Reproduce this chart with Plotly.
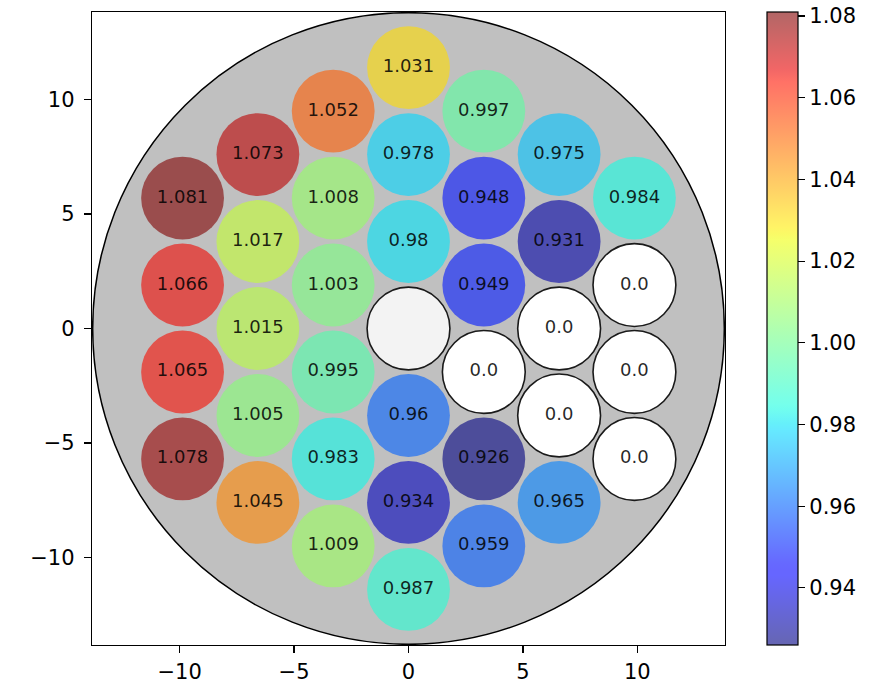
import numpy as np
import plotly.graph_objects as go

# ---- data (columns of the hexagonal lattice, left to right, values top to bottom) ----
col_index = [-3, -2, -1, 0, 1, 2, 3]
col_values = [
    [1.081, 1.066, 1.065, 1.078],
    [1.073, 1.017, 1.015, 1.005, 1.045],
    [1.052, 1.008, 1.003, 0.995, 0.983, 1.009],
    [1.031, 0.978, 0.98, None, 0.96, 0.934, 0.987],
    [0.997, 0.948, 0.949, 0.0, 0.926, 0.959],
    [0.975, 0.931, 0.0, 0.0, 0.965],
    [0.984, 0.0, 0.0, 0.0],
]
cbar_ticks = [0.94, 0.96, 0.98, 1.00, 1.02, 1.04, 1.06, 1.08]
axis_ticks = [-10, -5, 0, 5, 10]

# ---- geometry / style ----
PITCH = 3.8
PIN_R = 1.81
OUTER_R = 13.8
LIM = 13.83
ALPHA = 0.6
VMIN, VMAX = 0.926, 1.081
FONT = "DejaVu Sans"

# matplotlib jet segment data
_jet = {
    "r": [(0, 0), (0.35, 0), (0.66, 1), (0.89, 1), (1, 0.5)],
    "g": [(0, 0), (0.125, 0), (0.375, 1), (0.64, 1), (0.91, 0), (1, 0)],
    "b": [(0, 0.5), (0.11, 1), (0.34, 1), (0.65, 0), (1, 0)],
}


def jet(t):
    t = float(np.clip(t, 0, 1))
    out = []
    for ch in "rgb":
        xs_, ys_ = zip(*_jet[ch])
        out.append(int(round(255 * np.interp(t, xs_, ys_))))
    return out


def rgba(c, a):
    return f"rgba({c[0]},{c[1]},{c[2]},{a})"


xs, ys, vals = [], [], []
dx = PITCH * np.sqrt(3) / 2
for c, col in zip(col_index, col_values):
    n = len(col)
    for k, v in enumerate(col):
        xs.append(c * dx)
        ys.append(((n - 1) / 2 - k) * PITCH)
        vals.append(v)

shapes = [
    dict(type="circle", xref="x", yref="y",
         x0=-OUTER_R, x1=OUTER_R, y0=-OUTER_R, y1=OUTER_R,
         fillcolor="#c0c0c0", line=dict(color="black", width=1.5), layer="below")
]
tx, ty, tt = [], [], []
for x, y, v in zip(xs, ys, vals):
    if v is None:
        fill = "rgba(255,255,255,0.8)"
        line = dict(color="#1a1a1a", width=1.6)
    elif v == 0:
        fill = "white"
        line = dict(color="#1a1a1a", width=1.6)
    else:
        fill = rgba(jet((v - VMIN) / (VMAX - VMIN)), ALPHA)
        line = dict(width=0)
    shapes.append(dict(type="circle", xref="x", yref="y",
                       x0=x - PIN_R, x1=x + PIN_R, y0=y - PIN_R, y1=y + PIN_R,
                       fillcolor=fill, line=line, layer="below"))
    if v is not None:
        tx.append(x)
        ty.append(y)
        tt.append(str(v))

fig = go.Figure()
fig.add_trace(go.Scatter(
    x=tx, y=ty, text=tt, mode="text",
    textfont=dict(family=FONT, size=18, color="rgba(0,0,0,0.85)"),
    hoverinfo="skip", showlegend=False))

cs_pts = np.linspace(0, 1, 101)
colorscale = [[float(p), rgba(jet(p), ALPHA)] for p in cs_pts]
colored = [v for v in vals if v]
fig.add_trace(go.Scatter(
    x=[xs[0]] * len(colored), y=[ys[0]] * len(colored), mode="markers",
    marker=dict(color=colored, colorscale=colorscale, cmin=VMIN, cmax=VMAX,
                size=1, opacity=0, showscale=True,
                colorbar=dict(x=1.0664, xanchor="left", xpad=0, ypad=0,
                              y=0.5, yanchor="middle", len=1, thickness=31,
                              outlinecolor="black", outlinewidth=1.2,
                              ticks="outside", ticklen=7, tickwidth=1.2,
                              tickcolor="black", ticklabeloverflow="allow",
                              tickvals=cbar_ticks,
                              ticktext=[f"{t:.2f}" for t in cbar_ticks],
                              tickfont=dict(family=FONT, size=21, color="black"))),
    hoverinfo="skip", showlegend=False))

axis_common = dict(range=[-LIM, LIM], showgrid=False, zeroline=False,
                   showline=True, linecolor="black", linewidth=1.2, mirror=True,
                   ticks="outside", ticklen=7, tickwidth=1.2, tickcolor="black",
                   tickvals=axis_ticks, automargin=False,
                   ticktext=[str(t).replace("-", "\u2212") for t in axis_ticks],
                   tickfont=dict(family=FONT, size=21, color="black"))
fig.update_layout(
    width=874, height=683,
    margin=dict(l=92, r=149, t=12, b=38, autoexpand=False),
    paper_bgcolor="white", plot_bgcolor="white",
    shapes=shapes,
    xaxis=dict(axis_common, ticklabelstandoff=1),
    yaxis=dict(axis_common, ticklabelstandoff=5),
    hovermode=False,
)
# remove the browser's default 8px body margin so the figure fills the window
fig.write_html("out.html",
               config={"displayModeBar": False, "staticPlot": True},
               post_script="document.body.style.margin='0';document.body.style.overflow='hidden';")
